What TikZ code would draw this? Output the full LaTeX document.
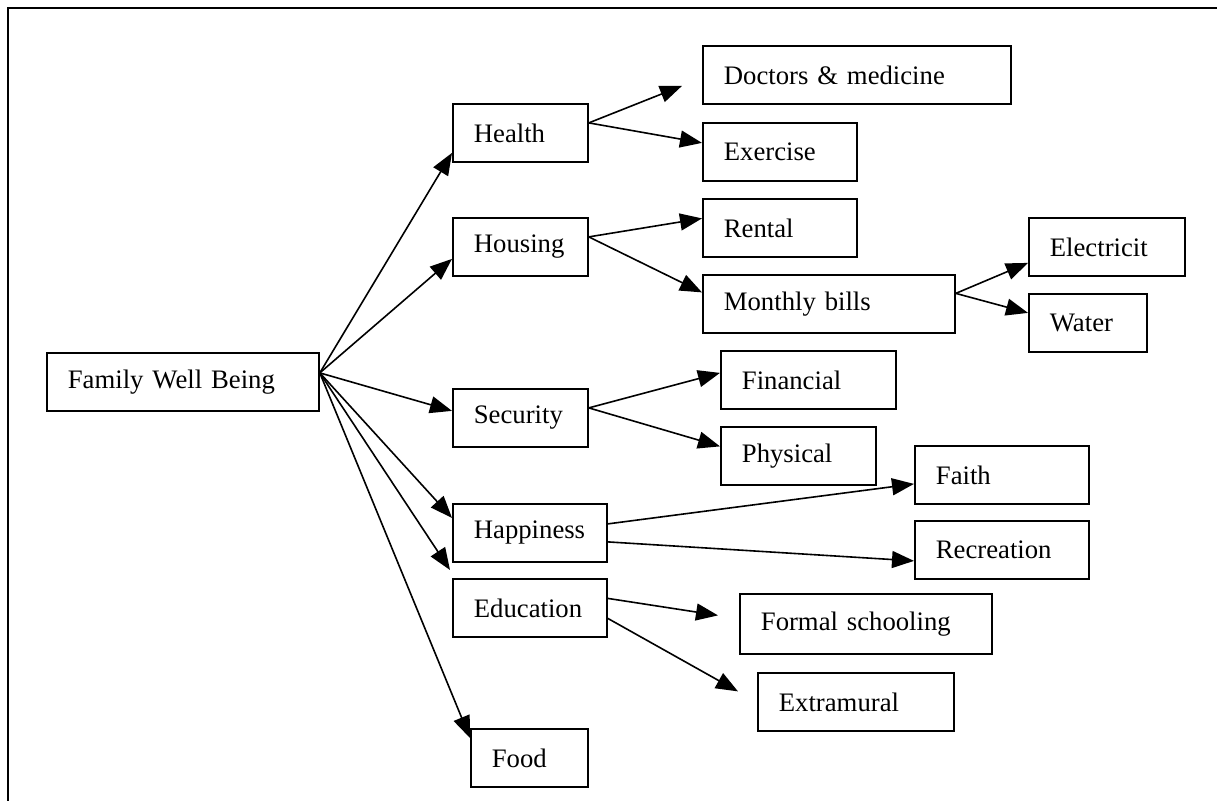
\documentclass[tikz,border=0pt]{standalone}
\usepackage{fontspec}
\setmainfont{Liberation Serif}
\usetikzlibrary{arrows.meta}

\tikzset{
  box/.style={draw,line width=0.9pt,anchor=north west,minimum height=29pt,
    inner xsep=10.5pt,inner ysep=0pt,align=left},
  link/.style={->,line width=0.8pt}
}

\begin{document}
\begin{tikzpicture}[x=0.5pt,y=-0.5pt,>={Triangle[length=11pt,width=8.5pt]},
    font=\fontsize{13.35}{16}\selectfont]
  \useasboundingbox (0,0) rectangle (1217,801);
  \draw[line width=0.9pt] (8,801) -- (8,8) -- (1217,8);

  % root and first level
  \node (fwb) [box,text width=115pt] at (46,352) {Family Well Being};
  \node (health) [box,text width=46.5pt] at (452,103) {Health};
  \node (housing) [box,text width=46.5pt] at (452,217) {Housing};
  \node (security) [box,text width=46.5pt] at (452,388) {Security};
  \node (happy) [box,text width=56pt] at (452,503) {Happiness};
  \node (edu) [box,text width=56pt] at (452,578) {Education};
  \node (food) [box,text width=37.5pt] at (470,728) {Food};

  % second level
  \node (doctors) [box,text width=133pt] at (702,45) {Doctors \& medicine};
  \node (exercise) [box,text width=56pt] at (702,122) {Exercise};
  \node (rental) [box,text width=56pt] at (702,198) {Rental};
  \node (bills) [box,text width=105pt] at (702,274) {Monthly bills};
  \node (elec) [box,text width=57pt] at (1028,217) {Electricit};
  \node (water) [box,text width=38pt] at (1028,293) {Water};
  \node (financial) [box,text width=66.5pt] at (720,350) {Financial};
  \node (physical) [box,text width=56.5pt] at (720,426) {Physical};
  \node (faith) [box,text width=66pt] at (914,445) {Faith};
  \node (recreation) [box,text width=66pt] at (914,520) {Recreation};
  \node (formal) [box,text width=105pt,minimum height=30pt] at (739,593) {Formal schooling};
  \node (extra) [box,text width=77pt] at (757,672) {Extramural};

  % links from the root
  \draw[link] ([yshift=4.5pt]fwb.east) -- ([yshift=-10pt]health.west);
  \draw[link] ([yshift=4.5pt]fwb.east) -- ([yshift=-6pt]housing.west);
  \draw[link] ([yshift=4.5pt]fwb.east) -- ([yshift=3.5pt]security.west);
  \draw[link] ([yshift=4.5pt]fwb.east) -- ([yshift=7.5pt]happy.west);
  \draw[link] ([yshift=4.5pt]fwb.east) -- ([xshift=-1pt,yshift=4pt]edu.north west);
  \draw[link] ([yshift=4.5pt]fwb.east) -- ([yshift=-5pt]food.north west);

  % links to the second level
  \draw[link] ([yshift=5pt]health.east) -- ([xshift=-10pt,yshift=-5.5pt]doctors.west);
  \draw[link] ([yshift=5pt]health.east) -- ([yshift=4.5pt]exercise.west);
  \draw[link] ([yshift=5pt]housing.east) -- ([yshift=4.75pt]rental.west);
  \draw[link] ([yshift=5pt]housing.east) -- ([yshift=5.75pt]bills.west);
  \draw[link] ([yshift=5.25pt]bills.east) -- ([yshift=-8pt]elec.west);
  \draw[link] ([yshift=5.25pt]bills.east) -- ([yshift=5pt]water.west);
  \draw[link] ([yshift=5pt]security.east) -- ([yshift=3.5pt]financial.west);
  \draw[link] ([yshift=5pt]security.east) -- ([yshift=4.75pt]physical.west);
  \draw[link] ([yshift=4.5pt]happy.east) -- ([yshift=-4.5pt]faith.west);
  \draw[link] ([yshift=-4.5pt]happy.east) -- ([yshift=-5.5pt]recreation.west);
  \draw[link] ([yshift=4.75pt]edu.east) -- ([xshift=-10.5pt,yshift=4.25pt]formal.west);
  \draw[link] ([yshift=-5.25pt]edu.east) -- ([xshift=-9.5pt,yshift=5.25pt]extra.west);
\end{tikzpicture}
\end{document}
